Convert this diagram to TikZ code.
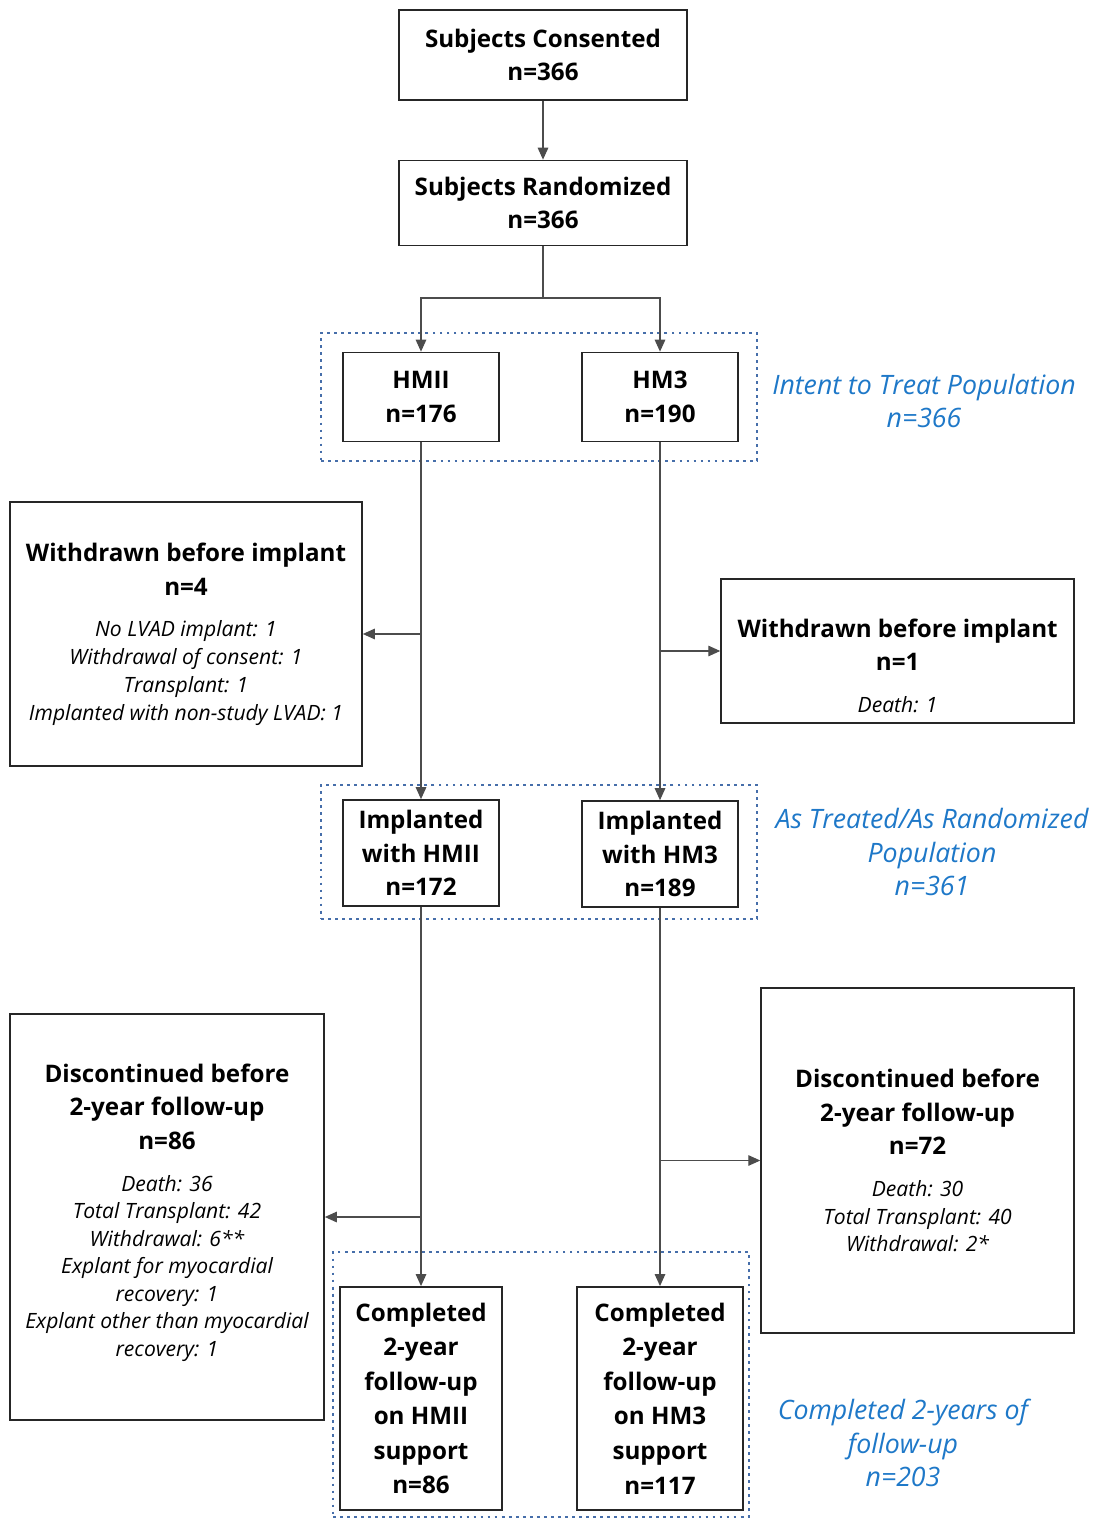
\documentclass[tikz,border=0pt]{standalone}
\usepackage{fontspec}
\setmainfont{Open Sans}
\usetikzlibrary{arrows.meta, positioning}

\definecolor{grpblue}{RGB}{70,110,170}
\definecolor{lblblue}{RGB}{30,120,200}
\newcommand{\itl}[1]{{\fontsize{15}{19.8}\selectfont\mdseries\itshape #1}}

\begin{document}
\begin{tikzpicture}[
  font=\fontsize{17.2}{24}\selectfont\bfseries,
  box/.style={draw=black!85, line width=1.2pt, fill=white, align=center,
              inner sep=2pt},
  grp/.style={draw=grpblue, line width=2pt, dash pattern=on 2pt off 3pt,
              inner sep=0pt},
  lbl/.style={align=center, text=lblblue,
              font=\fontsize{19}{24}\selectfont\mdseries\itshape},
  arr/.style={-{Triangle[length=8.5pt, width=7.5pt]}, line width=0.8pt, draw=black!70},
  ln/.style={line width=0.8pt, draw=black!70}
]
\useasboundingbox (0,0) rectangle (27.35,-38);

% dotted groups
\node[grp, minimum width=10.9cm, minimum height=3.2cm] (ittgrp) at (13.475,-9.925) {};
\node[grp, minimum width=10.9cm, minimum height=3.35cm] (atrgrp) at (13.475,-21.3) {};
\node[grp, minimum width=10.4cm, minimum height=6.625cm] (cmpgrp) at (13.525,-34.6125) {};

% top
\node[box, minimum width=7.2cm, minimum height=2.25cm] (cons) at (13.575,-1.375)
  {Subjects Consented\\n=366};
\node[box, minimum width=7.2cm, minimum height=2.125cm] (rand) at (13.575,-5.075)
  {Subjects Randomized\\n=366};

% arms
\node[box, minimum width=3.9cm, minimum height=2.225cm] (hmii) at (10.525,-9.925) {HMII\\n=176};
\node[box, minimum width=3.9cm, minimum height=2.225cm] (hm3)  at (16.5,-9.925) {HM3\\n=190};
\node[lbl] (ittlbl) at (23.1,-10.025) {Intent to Treat Population\\n=366};

% withdrawn
\node[box, minimum width=8.8cm, minimum height=6.6cm] (wl) at (4.65,-15.85)
  {Withdrawn before implant\\n=4\\[5.5pt]
   \itl{No LVAD implant: 1}\\[-4.2pt]
   \itl{Withdrawal of consent: 1}\\[-4.2pt]
   \itl{Transplant: 1}\\[-4.2pt]
   \itl{Implanted with non-study LVAD: 1}};
\node[box, minimum width=8.825cm, minimum height=3.6cm] (wr) at (22.44,-16.275)
  {\rule{0pt}{34pt}Withdrawn before implant\\n=1\\[5.5pt]\itl{Death: 1}};

% implanted
\node[box, minimum width=3.9cm, minimum height=2.65cm] (ih)  at (10.525,-21.325)
  {Implanted\\with HMII\\n=172};
\node[box, minimum width=3.9cm, minimum height=2.65cm] (ih3) at (16.5,-21.35)
  {Implanted\\with HM3\\n=189};
\node[lbl] (atrlbl) at (23.3,-21.3) {As Treated/As Randomized\\Population\\n=361};

% discontinued
\node[box, minimum width=7.85cm, minimum height=10.15cm] (dl) at (4.175,-30.425)
  {Discontinued before\\2-year follow-up\\n=86\\[5.5pt]
   \itl{Death: 36}\\[-4.4pt]
   \itl{Total Transplant: 42}\\[-4.4pt]
   \itl{Withdrawal: 6**}\\[-4.4pt]
   \itl{Explant for myocardial}\\[-4.4pt]
   \itl{recovery: 1}\\[-4.4pt]
   \itl{Explant other than myocardial}\\[-4.4pt]
   \itl{recovery: 1}\rule[-10pt]{0pt}{0pt}};
\node[box, minimum width=7.825cm, minimum height=8.625cm] (dr) at (22.94,-29.0125)
  {Discontinued before\\2-year follow-up\\n=72\\[5.5pt]
   \itl{Death: 30}\\[-4.2pt]
   \itl{Total Transplant: 40}\\[-4.2pt]
   \itl{Withdrawal: 2*}};

% completed
\node[box, minimum width=4.05cm, minimum height=5.575cm] (ch)  at (10.525,-34.96)
  {Completed\\[0.6pt]2-year\\[0.6pt]follow-up\\[0.6pt]on HMII\\[0.6pt]support\\[0.6pt]n=86};
\node[box, minimum width=4.15cm, minimum height=5.575cm] (ch3) at (16.5,-34.96)
  {Completed\\[0.6pt]2-year\\[0.6pt]follow-up\\[0.6pt]on HM3\\[0.6pt]support\\[0.6pt]n=117};
\node[lbl] (cmplbl) at (22.575,-36.075) {Completed 2-years of\\follow-up\\n=203};

% connectors
\coordinate (split) at (13.575,-7.45);
\draw[arr] (cons) -- (rand);
\draw[ln]  (rand) -- (split);
\draw[arr] (split) -| (hmii);
\draw[arr] (split) -| (hm3);
\draw[arr] (hmii) -- (ih);
\draw[arr] (hm3) -- (ih3);
\draw[arr] (ih) -- (ch);
\draw[arr] (ih3) -- (ch3);
\draw[arr] (hmii.south |- wl.east) -- (wl.east);
\draw[arr] (hm3.south |- wr.west) -- (wr.west);
\draw[arr] (ih.south |- dl.east) -- (dl.east);
\draw[arr] (ih3.south |- dr.west) -- (dr.west);
\end{tikzpicture}
\end{document}
